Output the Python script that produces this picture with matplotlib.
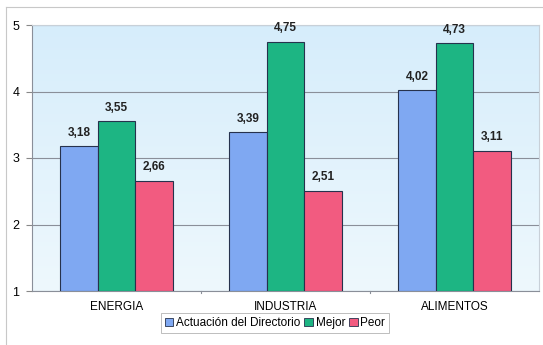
import numpy as np
import matplotlib.pyplot as plt
from matplotlib.patches import Rectangle
from matplotlib.lines import Line2D

plt.rcParams['font.family'] = ['Liberation Sans', 'DejaVu Sans']

# Datos del grafico
categorias = ['ENERGIA', 'INDUSTRIA', 'ALIMENTOS']
series = ['Actuación del Directorio', 'Mejor', 'Peor']
actuacion = [3.18, 3.39, 4.02]
mejor = [3.55, 4.75, 4.73]
peor = [2.66, 2.51, 3.11]
colores = ['#7fa8f2', '#1db583', '#f25b80']

fig = plt.figure(figsize=(5.43, 3.45), dpi=100)
ax = fig.add_axes([32 / 543, 1 - 291 / 345, 507 / 543, 266 / 345])

# fondo degradado del area de trazado
grad = np.linspace(0, 1, 256).reshape(-1, 1)
ax.imshow(grad, extent=[-0.5, 2.5, 1, 5], aspect='auto', origin='upper',
          cmap=plt.matplotlib.colors.LinearSegmentedColormap.from_list(
              'fondo', ['#d6edfb', '#eef8fd']), zorder=0)

x = np.arange(len(categorias))
ancho = 0.222
valores = [actuacion, mejor, peor]
for i, vals in enumerate(valores):
    pos = x + (i - 1) * ancho
    ax.bar(pos, np.array(vals) - 1, bottom=1, width=ancho, color=colores[i],
           edgecolor='#26324d', linewidth=0.8, zorder=3, label=series[i])
    for p, v in zip(pos, vals):
        ax.text(p, v + 0.11, f'{v:.2f}'.replace('.', ','), ha='center',
                va='bottom', fontsize=8.5, fontweight='bold', color='#222222')

ax.set_xlim(-0.5, 2.5)
ax.set_ylim(1, 5)
ax.set_yticks([1, 2, 3, 4, 5])
ax.set_xticks(x)
ax.set_xticklabels(categorias, fontsize=8.5)
ax.tick_params(axis='y', labelsize=9, length=4, color='#888888', pad=5)
ax.tick_params(axis='x', length=0, pad=7)
ax.yaxis.grid(True, color='#8a8f99', linewidth=0.8, zorder=1)
for lado in ['top', 'right']:
    ax.spines[lado].set_color('#c8d0d8')
    ax.spines[lado].set_linewidth(0.8)
ax.spines['left'].set_color('#8a8f99')
ax.spines['bottom'].set_color('#8a8f99')

# marcas entre categorias en el eje x
for xb in [0.5, 1.5]:
    ax.plot([xb, xb], [1, 0.97], color='#8a8f99', lw=0.8, clip_on=False)

# leyenda
handles = [Rectangle((0, 0), 1, 1, facecolor=c, edgecolor='#26324d', lw=0.6)
           for c in colores]
leg = fig.legend(handles, series, loc='center', bbox_to_anchor=(275 / 543, 1 - 323 / 345),
                 ncol=3, fontsize=8.5, frameon=True, fancybox=False,
                 handlelength=0.7, handleheight=0.7, handletextpad=0.25,
                 columnspacing=0.35, borderpad=0.3)
leg.get_frame().set_edgecolor('#a0a0a0')
leg.get_frame().set_linewidth(0.6)

# borde exterior del grafico
fig.add_artist(Line2D([6 / 543, 1], [1 - 7 / 345, 1 - 7 / 345], color='#c8c8c8', lw=0.8))
fig.add_artist(Line2D([6 / 543, 6 / 543], [0, 1 - 7 / 345], color='#c8c8c8', lw=0.8))

fig.savefig('out.png', dpi=100)
